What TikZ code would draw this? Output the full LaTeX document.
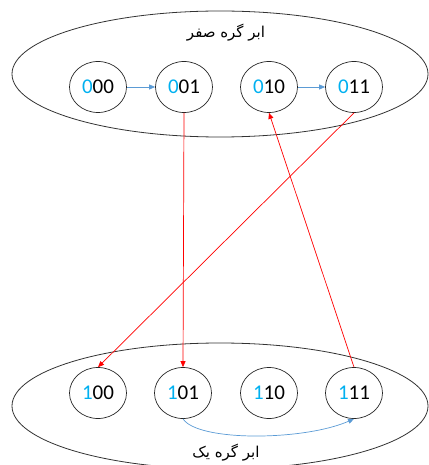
\documentclass[tikz,border=0pt]{standalone}
\usepackage{fontspec}
\setmainfont{Carlito}
\newfontfamily\arabicfont[Script=Arabic]{DejaVu Sans}
\TeXXeTstate=1
\usetikzlibrary{shapes.geometric,arrows.meta}
\definecolor{digitblue}{RGB}{0,176,240}
\definecolor{arrowblue}{RGB}{91,155,213}
\definecolor{arrowred}{RGB}{255,0,0}
\tikzset{
  state/.style={ellipse,draw=black!85,line width=0.7pt,minimum width=57pt,minimum height=51pt,inner sep=0pt,font=\fontsize{21}{21}\selectfont},
  group/.style={ellipse,draw=black!80,line width=0.8pt,minimum width=416pt,minimum height=126pt,inner sep=0pt},
  title/.style={font=\arabicfont\fontsize{15}{15}\selectfont},
  bluearrow/.style={draw=arrowblue,line width=0.7pt,-{Triangle[length=6pt,width=5pt]}},
  redarrow/.style={draw=arrowred,line width=0.7pt,-{Triangle[length=6pt,width=5pt]}}
}
\newcommand{\bd}[2]{\textcolor{digitblue}{#1}#2}
\begin{document}
\begin{tikzpicture}[x=1pt,y=1pt]
\useasboundingbox (0,0) rectangle (428,-465);
\node[group] (g0) at (220,-74) {};
\node[group] (g1) at (220,-406) {};
\node[title] (t0) at (226,-33) {\beginR ابر گره صفر\endR};
\node[title] (t1) at (226,-453) {\beginR ابر گره یک\endR};
\node[state] (n000) at (98,-87) {\bd{0}{00}};
\node[state] (n001) at (184,-87) {\bd{0}{01}};
\node[state] (n010) at (269,-87) {\bd{0}{10}};
\node[state] (n011) at (354,-87) {\bd{0}{11}};
\node[state] (n100) at (98,-393) {\bd{1}{00}};
\node[state] (n101) at (183,-393) {\bd{1}{01}};
\node[state] (n110) at (269,-393) {\bd{1}{10}};
\node[state] (n111) at (354,-393) {\bd{1}{11}};
\draw[bluearrow] (n000.east) -- (n001.west);
\draw[bluearrow] (n010.east) -- (n011.west);
\draw[bluearrow] (n101.south) .. controls +(15,-23) and +(-50,-22) .. (n111.south);
\draw[redarrow] (n001.south) -- (n101.north);
\draw[redarrow] (n011.south) -- (n100.north);
\draw[redarrow] (n111.north) -- (n010.south);
\end{tikzpicture}
\end{document}
